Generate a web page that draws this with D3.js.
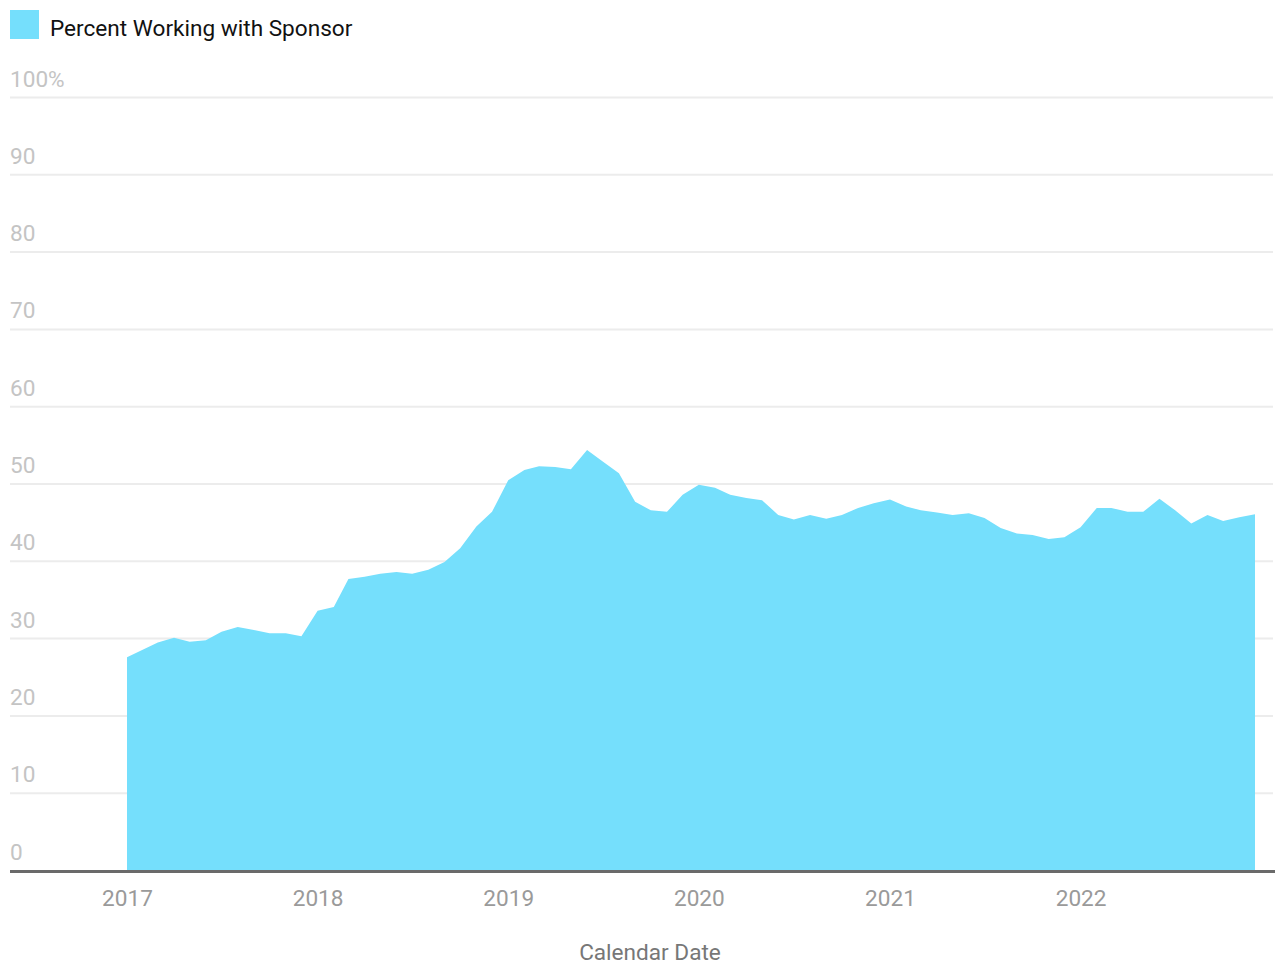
<!DOCTYPE html>
<html>
<head>
<meta charset="utf-8">
<script src="https://cdn.jsdelivr.net/npm/d3@7"></script>
<style>
  html, body { margin: 0; padding: 0; background: #fff; }
  svg { display: block; font-family: Roboto, "Noto Sans", sans-serif; }
</style>
</head>
<body>
<svg id="chart" width="1281" height="965"></svg>
<script>
// Monthly share of participants working with a sponsor, Jan 2017 – Dec 2022
const startMonth = "2017-01";
const percentWorkingWithSponsor = [
  27.6, 28.6, 29.5, 30.1, 29.6, 29.8, 30.9, 31.5, 31.1, 30.7, 30.7, 30.3,
  33.6, 34.1, 37.7, 38.0, 38.4, 38.6, 38.4, 38.9, 39.9, 41.7, 44.5, 46.4,
  50.5, 51.8, 52.3, 52.2, 51.9, 54.4, 52.9, 51.4, 47.7, 46.6, 46.4, 48.6,
  49.9, 49.5, 48.6, 48.2, 47.9, 46.0, 45.4, 46.0, 45.5, 46.0, 46.9, 47.5,
  48.0, 47.1, 46.6, 46.3, 46.0, 46.2, 45.6, 44.3, 43.6, 43.4, 42.9, 43.1,
  44.4, 46.9, 46.9, 46.4, 46.4, 48.1, 46.6, 44.9, 46.0, 45.2, 45.7, 46.1
];
const yTickValues = [0, 10, 20, 30, 40, 50, 60, 70, 80, 90, 100];
const xTickYears = [2017, 2018, 2019, 2020, 2021, 2022];
const seriesName = "Percent Working with Sponsor";
const xAxisTitle = "Calendar Date";

const parseMonth = d3.timeParse("%Y-%m");
const first = parseMonth(startMonth);
const data = percentWorkingWithSponsor.map((v, i) => ({
  date: d3.timeMonth.offset(first, i),
  value: v
}));

const svg = d3.select("#chart");
const areaColor = "#75dffc";
const fontSize = 22.6;

const x = d3.scaleTime()
  .domain([first, data[data.length - 1].date])
  .range([127, 1255]);
const y = d3.scaleLinear().domain([0, 100]).range([870.5, 97.5]);

// Legend
svg.append("rect").attr("x", 10).attr("y", 10).attr("width", 29).attr("height", 29)
  .attr("fill", areaColor);
svg.append("text").attr("x", 50).attr("y", 36)
  .attr("font-size", fontSize).attr("fill", "#111").text(seriesName);

// Horizontal gridlines and y labels
const grid = svg.append("g");
grid.selectAll("line").data(yTickValues.filter(d => d > 0)).join("line")
  .attr("x1", 10).attr("x2", 1273)
  .attr("y1", d => y(d)).attr("y2", d => y(d))
  .attr("stroke", "#ececec").attr("stroke-width", 2);
grid.selectAll("text").data(yTickValues).join("text")
  .attr("x", 10).attr("y", d => y(d) - 11)
  .attr("font-size", fontSize).attr("fill", "#c4c4c4")
  .text(d => d === 100 ? "100%" : d);

// Area
const area = d3.area()
  .x(d => x(d.date))
  .y0(y(0))
  .y1(d => y(d.value));
svg.append("path").datum(data).attr("d", area).attr("fill", areaColor);

// Baseline
svg.append("line").attr("x1", 10).attr("x2", 1275)
  .attr("y1", y(0) + 1).attr("y2", y(0) + 1)
  .attr("stroke", "#6a6a6a").attr("stroke-width", 3);

// X axis labels
const xAxis = d3.axisBottom(x)
  .tickValues(xTickYears.map(yr => new Date(yr, 0, 1)))
  .tickFormat(d3.timeFormat("%Y"))
  .tickSize(0).tickPadding(0);
const gx = svg.append("g").attr("transform", `translate(0, ${y(0)})`).call(xAxis);
gx.select(".domain").remove();
gx.selectAll("text")
  .attr("font-size", fontSize).attr("font-family", "Roboto, sans-serif")
  .attr("fill", "#9a9a9a").attr("dy", null).attr("y", 35);

// Axis title
svg.append("text").attr("x", 650).attr("y", 960).attr("text-anchor", "middle")
  .attr("font-size", fontSize).attr("fill", "#777").text(xAxisTitle);
</script>
</body>
</html>
